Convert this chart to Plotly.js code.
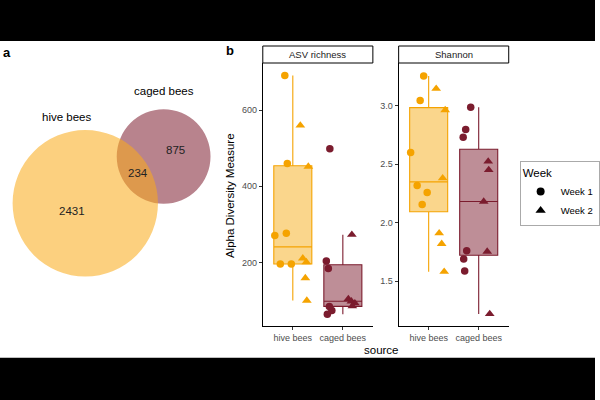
<!DOCTYPE html>
<html>
<head>
<meta charset="utf-8">
<script src="https://cdn.plot.ly/plotly-3.0.1.min.js"></script>
<style>html,body{margin:0;padding:0;background:#fff;}#chart{width:600px;height:400px;}</style>
</head>
<body>
<div id="chart"></div>
<script>
// ---------- DATA ----------
const sources = ["hive bees", "caged bees"];
const weeks = ["Week 1", "Week 2"];
const facets = ["ASV richness", "Shannon"];

// Venn counts
const vennLabels = ["hive bees", "caged bees"];
const hiveOnly = 2431;
const shared = 234;
const cagedOnly = 875;

// ASV richness
const asvHiveW1 = [691, 460, 271, 277, 196, 196];
const asvHiveW2 = [560, 452, 211, 201, 159, 100];
const asvCagedW1 = [204, 184, 499, 84, 74, 64];
const asvCagedW2 = [273, 104, 98, 93, 85];
// Shannon
const shHiveW1 = [3.254, 3.046, 2.601, 2.317, 2.257, 2.154];
const shHiveW2 = [3.146, 2.963, 2.38, 1.909, 1.818, 1.58];
const shCagedW1 = [2.987, 2.796, 2.731, 1.76, 1.689, 1.586];
const shCagedW2 = [2.524, 2.451, 2.18, 1.752, 1.218];

// horizontal jitter (category units)
const jAsvHiveW1 = [-0.16, -0.11, -0.36, -0.13, -0.25, -0.03];
const jAsvHiveW2 = [0.15, 0.31, 0.20, 0.27, 0.25, 0.28];
const jAsvCagedW1 = [-0.33, -0.29, -0.26, -0.27, -0.22, -0.31];
const jAsvCagedW2 = [0.18, 0.11, 0.17, 0.24, 0.19];
const jShHiveW1 = [-0.10, -0.17, -0.36, -0.23, -0.03, -0.13];
const jShHiveW2 = [0.15, 0.33, 0.28, 0.21, 0.26, 0.31];
const jShCagedW1 = [-0.16, -0.26, -0.31, -0.24, -0.30, -0.28];
const jShCagedW2 = [0.19, 0.20, 0.10, 0.17, 0.22];

// ---------- STYLE ----------
const HIVE = "#F5A300", CAGED = "#7B1C2E";
const HIVE_FILL = "rgba(245,165,0,0.45)", CAGED_FILL = "rgba(125,29,47,0.5)";
const FONT = "Liberation Sans, Arial, sans-serif";
const W = 600, H = 400;
const px = v => v / W, py = v => 1 - v / H;

function quant(s, p) {
  const h = (s.length - 1) * p, lo = Math.floor(h);
  const hi = Math.min(lo + 1, s.length - 1);
  return s[lo] + (h - lo) * (s[hi] - s[lo]);
}
function boxStats(vals) {
  const s = vals.slice().sort((a, b) => a - b);
  const q1 = quant(s, 0.25), med = quant(s, 0.5), q3 = quant(s, 0.75);
  const iqr = q3 - q1;
  const lo = s.filter(v => v >= q1 - 1.5 * iqr)[0];
  const hiArr = s.filter(v => v <= q3 + 1.5 * iqr);
  return {q1, med, q3, lf: lo, uf: hiArr[hiArr.length - 1]};
}
function boxTrace(vals, xpos, color, fill, xa, ya) {
  const b = boxStats(vals);
  return {type: "box", x: [xpos], q1: [b.q1], median: [b.med], q3: [b.q3],
    lowerfence: [b.lf], upperfence: [b.uf], boxpoints: false, width: 0.76,
    whiskerwidth: 0, fillcolor: fill, line: {color: color, width: 1.1},
    xaxis: xa, yaxis: ya, showlegend: false, hoverinfo: "skip"};
}
function ptTrace(vals, jit, xpos, color, sym, xa, ya) {
  return {type: "scatter", mode: "markers", x: vals.map((v, i) => xpos + jit[i]), y: vals,
    marker: {color: color, size: sym === "circle" ? 7.5 : 8.5, symbol: sym, line: {width: 0}},
    xaxis: xa, yaxis: ya, showlegend: false, hoverinfo: "skip"};
}

const traces = [
  boxTrace(asvHiveW1.concat(asvHiveW2), 0, HIVE, HIVE_FILL, "x", "y"),
  boxTrace(asvCagedW1.concat(asvCagedW2), 1, CAGED, CAGED_FILL, "x", "y"),
  boxTrace(shHiveW1.concat(shHiveW2), 0, HIVE, HIVE_FILL, "x2", "y2"),
  boxTrace(shCagedW1.concat(shCagedW2), 1, CAGED, CAGED_FILL, "x2", "y2"),
  ptTrace(asvHiveW1, jAsvHiveW1, 0, HIVE, "circle", "x", "y"),
  ptTrace(asvHiveW2, jAsvHiveW2, 0, HIVE, "triangle-up", "x", "y"),
  ptTrace(asvCagedW1, jAsvCagedW1, 1, CAGED, "circle", "x", "y"),
  ptTrace(asvCagedW2, jAsvCagedW2, 1, CAGED, "triangle-up", "x", "y"),
  ptTrace(shHiveW1, jShHiveW1, 0, HIVE, "circle", "x2", "y2"),
  ptTrace(shHiveW2, jShHiveW2, 0, HIVE, "triangle-up", "x2", "y2"),
  ptTrace(shCagedW1, jShCagedW1, 1, CAGED, "circle", "x2", "y2"),
  ptTrace(shCagedW2, jShCagedW2, 1, CAGED, "triangle-up", "x2", "y2"),
  {type: "scatter", mode: "markers", x: [null], y: [null], name: weeks[0],
   marker: {color: "#000", size: 8, symbol: "circle"}, xaxis: "x", yaxis: "y", showlegend: true},
  {type: "scatter", mode: "markers", x: [null], y: [null], name: weeks[1],
   marker: {color: "#000", size: 9, symbol: "triangle-up"}, xaxis: "x", yaxis: "y", showlegend: true}
];

const tickCommon = {
  showline: true, linecolor: "#000", linewidth: 1, ticks: "outside", ticklen: 3,
  tickcolor: "#333", tickwidth: 1, showgrid: false, zeroline: false,
  tickfont: {family: FONT, size: 9, color: "#4D4D4D"}, automargin: false, fixedrange: true
};
const xCommon = Object.assign({}, tickCommon, {type: "linear", range: [-0.6, 1.6],
  tickvals: [0, 1], ticktext: sources});

// Venn geometry (pixel-unit axes)
const kR = 73.3 / Math.sqrt(hiveOnly + shared);
const rHive = kR * Math.sqrt(hiveOnly + shared);
const rCaged = kR * Math.sqrt(cagedOnly + shared);
const cHive = [86, 358 - 203.3], cCaged = [165, 358 - 156.5];

const shapes = [
  {type: "rect", xref: "paper", yref: "paper", x0: 0, x1: 1, y0: py(41), y1: 1, fillcolor: "#000", line: {width: 0}},
  {type: "rect", xref: "paper", yref: "paper", x0: 0, x1: 1, y0: 0, y1: py(357.7), fillcolor: "#000", line: {width: 0}},
  {type: "rect", xref: "paper", yref: "paper", x0: px(265), x1: px(376), y0: py(63), y1: py(46), fillcolor: "#fff", line: {color: "#000", width: 1}},
  {type: "rect", xref: "paper", yref: "paper", x0: px(402), x1: px(513), y0: py(63), y1: py(46), fillcolor: "#fff", line: {color: "#000", width: 1}},
  {type: "circle", xref: "x3", yref: "y3", x0: cCaged[0] - rCaged, x1: cCaged[0] + rCaged,
   y0: cCaged[1] - rCaged, y1: cCaged[1] + rCaged, fillcolor: "rgba(125,29,47,0.55)", line: {width: 0}},
  {type: "circle", xref: "x3", yref: "y3", x0: cHive[0] - rHive, x1: cHive[0] + rHive,
   y0: cHive[1] - rHive, y1: cHive[1] + rHive, fillcolor: "rgba(250,172,26,0.56)", line: {width: 0}}
];

const txt = (t, x, y, size, extra) => Object.assign({text: t, xref: "paper", yref: "paper",
  x: px(x), y: py(y), xanchor: "center", yanchor: "middle", showarrow: false,
  font: {family: FONT, size: size, color: "#000"}}, extra || {});

const annotations = [
  txt("<b>a</b>", 7, 52, 13),
  txt("<b>b</b>", 232, 51, 13),
  txt(facets[0], 320.5, 54.5, 9.5, {font: {family: FONT, size: 9.5, color: "#1A1A1A"}}),
  txt(facets[1], 457.5, 54.5, 9.5, {font: {family: FONT, size: 9.5, color: "#1A1A1A"}}),
  txt("source", 385, 350, 11.5),
  txt("Alpha Diversity Measure", 232, 196, 11.5, {textangle: -90}),
  txt(vennLabels[0], 67, 117, 11.5),
  txt(vennLabels[1], 165, 91, 11.5),
  txt(String(hiveOnly), 73, 211, 11.5, {font: {family: FONT, size: 11.5, color: "#222"}}),
  txt(String(shared), 139, 173, 11.5, {font: {family: FONT, size: 11.5, color: "#222"}}),
  txt(String(cagedOnly), 177, 150, 11.5, {font: {family: FONT, size: 11.5, color: "#222"}})
];

const layout = {
  width: W, height: H, margin: {l: 0, r: 0, t: 0, b: 0},
  paper_bgcolor: "#fff", plot_bgcolor: "rgba(0,0,0,0)",
  font: {family: FONT},
  boxmode: "overlay",
  xaxis: Object.assign({}, xCommon, {domain: [px(265), px(376)], anchor: "y"}),
  yaxis: Object.assign({}, tickCommon, {domain: [py(326), py(63)], range: [33, 724],
    tickvals: [200, 400, 600], anchor: "x"}),
  xaxis2: Object.assign({}, xCommon, {domain: [px(402), px(513)], anchor: "y2"}),
  yaxis2: Object.assign({}, tickCommon, {domain: [py(326), py(63)], range: [1.115, 3.366],
    tickvals: [1.5, 2.0, 2.5, 3.0], tickformat: ".1f", anchor: "x2"}),
  xaxis3: {domain: [0, px(220)], range: [0, 220], visible: false, fixedrange: true, anchor: "y3"},
  yaxis3: {domain: [py(358), py(41)], range: [0, 317], visible: false, fixedrange: true, anchor: "x3"},
  showlegend: true,
  legend: {x: px(524), y: py(161), xanchor: "left", yanchor: "top",
    bgcolor: "#fff", bordercolor: "#AAAAAA", borderwidth: 1,
    title: {text: "Week", font: {family: FONT, size: 11.5, color: "#000"}},
    font: {family: FONT, size: 9.5, color: "#000"}, itemwidth: 30, tracegroupgap: 2},
  shapes: shapes, annotations: annotations
};

Plotly.newPlot("chart", traces, layout, {staticPlot: true, displayModeBar: false});
</script>
</body>
</html>
